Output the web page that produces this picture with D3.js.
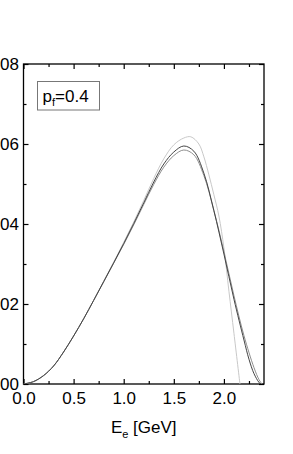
<!DOCTYPE html>
<html>
<head>
<meta charset="utf-8">
<script src="https://cdnjs.cloudflare.com/ajax/libs/d3/7.8.5/d3.min.js"></script>
<style>
  body { margin: 0; background: #fff; }
  svg { display: block; font-family: "Liberation Sans", Arial, sans-serif; }
  .axis path, .axis line { stroke: #000; }
  .axis text { font-size: 17px; fill: #000; }
</style>
</head>
<body>
<div id="chart"></div>
<script>
// spectrum, p_f = 0.4
const energy = [0, 0.1, 0.2, 0.3, 0.4, 0.5, 0.6, 0.7, 0.8, 0.9, 1.0, 1.1, 1.2, 1.3, 1.4, 1.5, 1.6, 1.7, 1.8, 1.9, 2.0, 2.1, 2.2, 2.25, 2.3, 2.35, 2.37];
const fullCurve = [0, 0.0006, 0.0021, 0.0045, 0.0080, 0.0120, 0.0163, 0.0209, 0.0256, 0.0303, 0.0351, 0.0401, 0.0453, 0.0505, 0.0550, 0.0580, 0.0595, 0.0582, 0.0527, 0.0433, 0.0325, 0.0212, 0.0110, 0.0062, 0.0026, 0.0004, 0];
const energyB = [0, 0.1, 0.2, 0.3, 0.4, 0.5, 0.6, 0.7, 0.8, 0.9, 1.0, 1.1, 1.2, 1.3, 1.4, 1.5, 1.6, 1.7, 1.8, 1.9, 2.0, 2.1, 2.2, 2.3, 2.35, 2.38];
const grayCurve = [0, 0.0006, 0.0021, 0.0045, 0.0080, 0.0120, 0.0163, 0.0209, 0.0255, 0.0302, 0.0349, 0.0398, 0.0449, 0.0499, 0.0542, 0.0571, 0.0585, 0.0573, 0.0521, 0.0434, 0.0331, 0.0221, 0.0121, 0.0041, 0.0011, 0];
const energyC = [0, 0.1, 0.2, 0.3, 0.4, 0.5, 0.6, 0.7, 0.8, 0.9, 1.0, 1.1, 1.2, 1.3, 1.4, 1.5, 1.6, 1.67, 1.75, 1.8, 1.85, 1.9, 1.95, 2.0, 2.05, 2.1, 2.16];
const lightCurve = [0, 0.0006, 0.0021, 0.0045, 0.0080, 0.0120, 0.0163, 0.0209, 0.0257, 0.0305, 0.0354, 0.0405, 0.0459, 0.0514, 0.0563, 0.0598, 0.0615, 0.0618, 0.0600, 0.0568, 0.0523, 0.0473, 0.0420, 0.0340, 0.0232, 0.0127, 0];

const xTicks = [0, 0.5, 1.0, 1.5, 2.0];
const xMinor = [0.25, 0.75, 1.25, 1.75, 2.25];
const yTicks = [0, 0.02, 0.04, 0.06, 0.08];
const yMinor = [0.01, 0.03, 0.05, 0.07];

const width = 293, height = 454;
const mLeft = 23.5, mRight = 264, mTop = 64, mBottom = 384;

const svg = d3.select("#chart").append("svg")
    .attr("width", width)
    .attr("height", height);

const x = d3.scaleLinear().domain([0, 2.4]).range([mLeft, mRight]);
const y = d3.scaleLinear().domain([0, 0.08]).range([mBottom, mTop]);

svg.append("defs").append("clipPath").attr("id", "plot")
    .append("rect")
    .attr("x", mLeft).attr("y", mTop)
    .attr("width", mRight - mLeft).attr("height", mBottom - mTop);

// axes, ticks pointing inward
function addAxis(gen, tx, ty, vals, size, fmt) {
    const g = svg.append("g")
        .attr("class", "axis")
        .attr("transform", `translate(${tx},${ty})`)
        .call(gen.tickValues(vals).tickSizeInner(size).tickSizeOuter(0).tickPadding(8).tickFormat(fmt));
    g.select(".domain").remove();
    g.selectAll("line").attr("stroke-width", 1.2);
    return g;
}
const none = () => "";
addAxis(d3.axisBottom(x), 0, mBottom, xTicks, -5, d3.format(".1f"));
addAxis(d3.axisBottom(x), 0, mBottom, xMinor, -3, none);
addAxis(d3.axisTop(x), 0, mTop, xTicks, -5, none);
addAxis(d3.axisTop(x), 0, mTop, xMinor, -3, none);
// y labels run off the left edge, as in the original
const yl = addAxis(d3.axisLeft(y), mLeft, 0, yTicks, -5, d3.format(".2f"));
yl.selectAll("text").attr("x", -4.5);
addAxis(d3.axisLeft(y), mLeft, 0, yMinor, -3, none);
addAxis(d3.axisRight(y), mRight, 0, yTicks, -5, none);
addAxis(d3.axisRight(y), mRight, 0, yMinor, -3, none);

svg.append("rect")
    .attr("x", mLeft).attr("y", mTop)
    .attr("width", mRight - mLeft).attr("height", mBottom - mTop)
    .attr("fill", "none")
    .attr("stroke", "#000")
    .attr("stroke-width", 1.3);

const line = (xs) => d3.line()
    .x((d, i) => x(xs[i]))
    .y(d => y(d))
    .curve(d3.curveCatmullRom.alpha(0.5));

const curves = svg.append("g").attr("clip-path", "url(#plot)");
curves.append("path").datum(lightCurve)
    .attr("d", line(energyC)).attr("fill", "none")
    .attr("stroke", "#c8c8c8").attr("stroke-width", 1);
curves.append("path").datum(grayCurve)
    .attr("d", line(energyB)).attr("fill", "none")
    .attr("stroke", "#8e8e8e").attr("stroke-width", 1);
curves.append("path").datum(fullCurve)
    .attr("d", line(energy)).attr("fill", "none")
    .attr("stroke", "#444").attr("stroke-width", 1);

// legend box
const legend = svg.append("g");
legend.append("rect")
    .attr("x", 37.5).attr("y", 81.5)
    .attr("width", 62).attr("height", 28.5)
    .attr("fill", "#fff")
    .attr("stroke", "#777").attr("stroke-width", 1);
const lt = legend.append("text")
    .attr("x", 42.5).attr("y", 101.5)
    .attr("font-size", 17);
lt.append("tspan").text("p");
lt.append("tspan").attr("font-size", 11).attr("dy", 4).text("f");
lt.append("tspan").attr("dy", -4).text("=0.4");

// x title
const xt = svg.append("text")
    .attr("x", (mLeft + mRight) / 2).attr("y", 432.5)
    .attr("text-anchor", "middle")
    .attr("font-size", 17);
xt.append("tspan").text("E");
xt.append("tspan").attr("font-size", 11).attr("dy", 5).text("e");
xt.append("tspan").attr("dy", -5).text(" [GeV]");
</script>
</body>
</html>
